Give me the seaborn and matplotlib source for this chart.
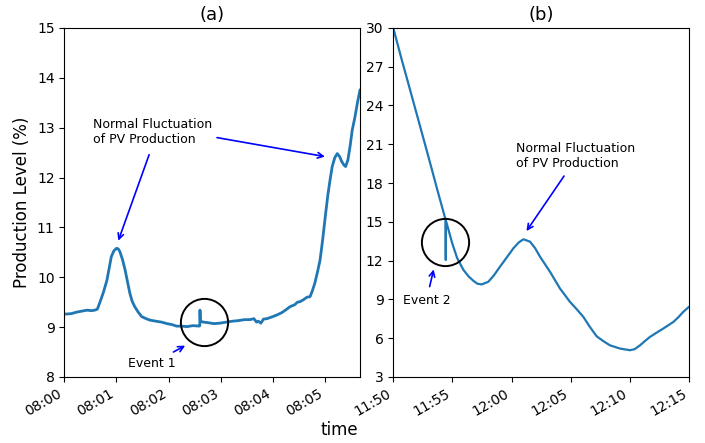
import pandas as pd
import matplotlib
matplotlib.use("Agg")
import matplotlib.pyplot as plt
import matplotlib.dates as mdates
import seaborn as sns

sns.set_style("ticks")
plt.rcParams['font.family'] = ['DejaVu Sans']
plt.rcParams.update({"text.color": "black", "axes.labelcolor": "black",
                     "xtick.color": "black", "ytick.color": "black",
                     "axes.edgecolor": "black"})

# Panel (a): seconds after 08:00 and production level (%)
sec_a = [0, 8, 14, 20, 26, 31, 35, 38, 41, 45, 49, 52, 54, 57, 60, 62, 64, 67, 70, 73,
         75.5, 78, 81, 85, 89, 94, 98.5, 105, 112, 118, 124, 129, 135, 141, 148, 155,
         155.8, 156, 156.4, 158, 160, 165, 172, 179, 186, 194, 200, 207, 213.5, 218,
         221, 223, 226, 229, 233, 238, 244, 250, 255, 259.5, 265, 268, 271, 275, 279,
         282.5, 285, 288, 291, 294, 297, 300, 303, 305.5, 308, 311, 313.8, 316.5, 319,
         321.5, 323.4, 326, 328.5, 331, 334, 337, 340]
val_a = [9.26, 9.27, 9.30, 9.32, 9.34, 9.33, 9.34, 9.36, 9.50, 9.70, 9.94, 10.22, 10.41,
         10.53, 10.58, 10.57, 10.51, 10.35, 10.14, 9.88, 9.67, 9.52, 9.41, 9.30, 9.21,
         9.17, 9.14, 9.12, 9.10, 9.07, 9.05, 9.02, 9.02, 9.01, 9.03, 9.02, 9.03, 9.34,
         9.12, 9.11, 9.10, 9.09, 9.07, 9.08, 9.10, 9.12, 9.13, 9.15, 9.15, 9.17, 9.10,
         9.12, 9.08, 9.16, 9.17, 9.20, 9.24, 9.29, 9.35, 9.41, 9.45, 9.50, 9.51, 9.55,
         9.60, 9.61, 9.72, 9.88, 10.10, 10.34, 10.75, 11.21, 11.65, 11.95, 12.22, 12.40,
         12.48, 12.42, 12.32, 12.25, 12.22, 12.35, 12.62, 12.95, 13.20, 13.50, 13.76]

# Panel (b): minutes after 11:50 and production level (%)
min_b = [0, 0.7, 1.41, 2.1, 2.82, 3.25, 3.66, 4.05, 4.43, 4.44, 4.45, 5.0, 5.4, 5.92,
         6.35, 6.76, 7.1, 7.47, 8.03, 8.5, 9.02, 9.6, 10.15, 10.6, 11.0, 11.56, 12.0,
         12.41, 13.25, 14.09, 14.94, 15.5, 16.07, 16.6, 17.19, 17.8, 18.32, 19.17, 20.01,
         20.4, 20.86, 21.3, 21.70, 22.3, 22.83, 23.68, 24.1, 24.52, 25]
val_b = [30.0, 27.6, 25.25, 22.95, 20.55, 19.1, 17.7, 16.4, 15.14, 12.05, 15.1, 13.3,
         12.2, 11.3, 10.8, 10.45, 10.22, 10.16, 10.36, 10.85, 11.53, 12.25, 12.95,
         13.40, 13.65, 13.47, 12.95, 12.30, 11.14, 9.85, 8.81, 8.25, 7.65, 6.90, 6.15,
         5.75, 5.45, 5.20, 5.07, 5.15, 5.45, 5.80, 6.10, 6.45, 6.75, 7.26, 7.62, 8.04, 8.43]

t0_a = pd.Timestamp("2020-01-01 08:00:00")
t0_b = pd.Timestamp("2020-01-01 11:50:00")
df_a = pd.DataFrame({"time": t0_a + pd.to_timedelta(sec_a, unit="s"), "level": val_a})
df_b = pd.DataFrame({"time": t0_b + pd.to_timedelta(min_b, unit="m"), "level": val_b})

fig = plt.figure(figsize=(7.05, 4.43), dpi=100)
ax1 = fig.add_axes([0.0912, 0.149, 0.4195, 0.788])
ax2 = fig.add_axes([0.5578, 0.149, 0.4195, 0.788])

blue = "#1f77b4"
sns.lineplot(data=df_a, x="time", y="level", ax=ax1, color=blue, lw=2.0)
sns.lineplot(data=df_b, x="time", y="level", ax=ax2, color=blue, lw=1.6)

def ts(t0, s):
    return mdates.date2num(t0 + pd.Timedelta(seconds=s))

# axes (a)
ax1.set_xlim(ts(t0_a, 0), ts(t0_a, 340))
ax1.set_ylim(8, 15)
ax1.xaxis.set_major_locator(mdates.MinuteLocator(interval=1))
ax1.xaxis.set_major_formatter(mdates.DateFormatter("%H:%M"))
ax1.set_title("(a)", fontsize=13)
ax1.set_ylabel("Production Level (%)", fontsize=12)
ax1.set_xlabel("")

arr = dict(arrowstyle="->", color="blue", lw=1.2)
ax1.text(ts(t0_a, 33), 13.19, "Normal Fluctuation\nof PV Production", fontsize=9, va="top")
ax1.annotate("", xy=(ts(t0_a, 61), 10.68), xytext=(ts(t0_a, 98.6), 12.51), arrowprops=arr)
ax1.annotate("", xy=(ts(t0_a, 302.8), 12.41), xytext=(ts(t0_a, 172.4), 12.81), arrowprops=arr)
ax1.text(ts(t0_a, 73), 8.28, "Event 1", fontsize=9, va="center")
ax1.annotate("", xy=(ts(t0_a, 141.8), 8.655), xytext=(ts(t0_a, 122.7), 8.475), arrowprops=arr)
ax1.plot([ts(t0_a, 160.3)], [9.105], marker="o", ms=34, mfc="none", mec="black", mew=1.4)

# axes (b)
ax2.set_xlim(ts(t0_b, 0), ts(t0_b, 25 * 60))
ax2.set_ylim(3, 30)
ax2.set_yticks(range(3, 31, 3))
ax2.xaxis.set_major_locator(mdates.MinuteLocator(byminute=range(0, 60, 5)))
ax2.xaxis.set_major_formatter(mdates.DateFormatter("%H:%M"))
ax2.set_title("(b)", fontsize=13)
ax2.set_ylabel("")
ax2.set_xlabel("")

ax2.text(ts(t0_b, 10.35 * 60), 21.2, "Normal Fluctuation\nof PV Production", fontsize=9, va="top")
ax2.annotate("", xy=(ts(t0_b, 11.13 * 60), 14.11), xytext=(ts(t0_b, 14.57 * 60), 18.72), arrowprops=arr)
ax2.text(ts(t0_b, 0.79 * 60), 8.9, "Event 2", fontsize=9, va="center")
ax2.annotate("", xy=(ts(t0_b, 3.47 * 60), 11.53), xytext=(ts(t0_b, 3.02 * 60), 9.78), arrowprops=arr)
ax2.plot([ts(t0_b, 4.40 * 60)], [13.41], marker="o", ms=34, mfc="none", mec="black", mew=1.4)

for ax in (ax1, ax2):
    ax.tick_params(labelsize=10)
    for lab in ax.get_xticklabels():
        lab.set_rotation(30)
        lab.set_ha("right")

fig.text(0.482, 0.018, "time", fontsize=12, ha="center")

fig.savefig("out.png", dpi=100)
